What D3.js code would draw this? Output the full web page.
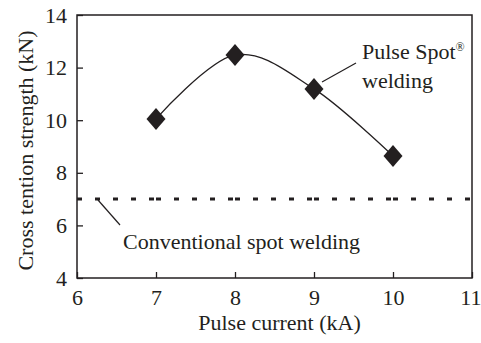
<!DOCTYPE html>
<html>
<head>
<meta charset="utf-8">
<script src="https://cdn.jsdelivr.net/npm/d3@7"></script>
<style>
  body { margin: 0; background: #fff; }
</style>
</head>
<body>
<div id="chart"></div>
<script>
// pulse spot welding results
const pulseCurrent = [7, 8, 9, 10];
const pulseStrength = [10.05, 12.48, 11.19, 8.64];

// conventional spot welding level
const convCurrent = [6, 7, 8, 9, 10, 11];
const convStrength = [7.0, 7.0, 7.0, 7.0, 7.0, 7.0];

const xTicks = [6, 7, 8, 9, 10, 11];
const yTicks = [4, 6, 8, 10, 12, 14];

const W = 481, H = 343;
const margin = {top: 15, right: 9, bottom: 65, left: 77};
const width = W - margin.left - margin.right;
const height = H - margin.top - margin.bottom;
const ink = '#231f20';
const font = '"Liberation Serif", "Times New Roman", Times, "DejaVu Serif", serif';

const svg = d3.select('#chart').append('svg')
    .attr('width', W)
    .attr('height', H)
    .style('font-family', font);

const g = svg.append('g')
    .attr('transform', 'translate(' + margin.left + ',' + margin.top + ')');

const xScale = d3.scaleLinear().domain([6, 11]).range([0, width]);
const yScale = d3.scaleLinear().domain([4, 14]).range([height, 0]);

const xAxis = d3.axisBottom(xScale).tickValues(xTicks).tickFormat(d3.format('d'))
    .tickSizeInner(-6).tickSizeOuter(0).tickPadding(11);
const yAxis = d3.axisLeft(yScale).tickValues(yTicks).tickFormat(d3.format('d'))
    .tickSizeInner(-6).tickSizeOuter(0).tickPadding(10);

const gx = g.append('g')
    .attr('transform', 'translate(0,' + height + ')')
    .call(xAxis);
const gy = g.append('g').call(yAxis);

[gx, gy].forEach((a) => {
    a.attr('font-family', null).attr('font-size', null);
    a.select('.domain').remove();
    a.selectAll('line').attr('stroke', ink).attr('stroke-width', 1.3);
    a.selectAll('text')
        .attr('font-family', font)
        .attr('font-size', 22)
        .attr('fill', ink);
});
// keep the last x label inside the page
gx.selectAll('.tick text').filter((d) => d === 11)
    .attr('text-anchor', 'end')
    .attr('dx', 9);

// frame
g.append('rect')
    .attr('width', width)
    .attr('height', height)
    .attr('fill', 'none')
    .attr('stroke', ink)
    .attr('stroke-width', 1.5);

// conventional line, dash pattern restarts at every point
const convLine = d3.line()
    .x((d) => xScale(d[0]))
    .y((d) => yScale(d[1]));
const convPts = convCurrent.map((c, i) => [c, convStrength[i]]);
g.append('g').selectAll('path')
    .data(d3.pairs(convPts))
    .join('path')
    .attr('d', convLine)
    .attr('fill', 'none')
    .attr('stroke', ink)
    .attr('stroke-width', 3)
    .attr('stroke-dasharray', '5,13');

// pulse spot curve
const pulsePts = pulseCurrent.map((c, i) => [c, pulseStrength[i]]);
const pulseLine = d3.line()
    .curve(d3.curveCardinal.tension(0))
    .x((d) => xScale(d[0]))
    .y((d) => yScale(d[1]));
g.append('path')
    .datum(pulsePts)
    .attr('d', pulseLine)
    .attr('fill', 'none')
    .attr('stroke', ink)
    .attr('stroke-width', 1.3);

const dw = 9.5, dh = 11;
g.append('g').selectAll('path')
    .data(pulsePts)
    .join('path')
    .attr('transform', (d) => 'translate(' + xScale(d[0]) + ',' + yScale(d[1]) + ')')
    .attr('d', 'M0,' + (-dh) + 'L' + dw + ',0L0,' + dh + 'L' + (-dw) + ',0Z')
    .attr('fill', ink);

// annotations
const addText = (x, y, s) => svg.append('text')
    .attr('x', x).attr('y', y)
    .attr('font-family', font)
    .attr('font-size', 22)
    .attr('fill', ink)
    .text(s);

svg.append('line')
    .attr('x1', 322).attr('y1', 82).attr('x2', 356).attr('y2', 63)
    .attr('stroke', ink).attr('stroke-width', 1.2);
const lab = addText(362, 59, null);
lab.append('tspan').text('Pulse Spot');
lab.append('tspan').attr('font-size', 12).attr('dy', -8).text('®');
addText(362, 87.5, 'welding');

svg.append('line')
    .attr('x1', 98).attr('y1', 200).attr('x2', 120).attr('y2', 225)
    .attr('stroke', ink).attr('stroke-width', 1.2);
addText(123, 249, 'Conventional spot welding');

// axis titles
addText(margin.left + width / 2 + 5, 330, 'Pulse current (kA)')
    .attr('text-anchor', 'middle');

addText(0, 0, 'Cross tention strength (kN)')
    .attr('transform', 'translate(33,' + (margin.top + height / 2 + 4) + ') rotate(-90)')
    .attr('text-anchor', 'middle');
</script>
</body>
</html>
